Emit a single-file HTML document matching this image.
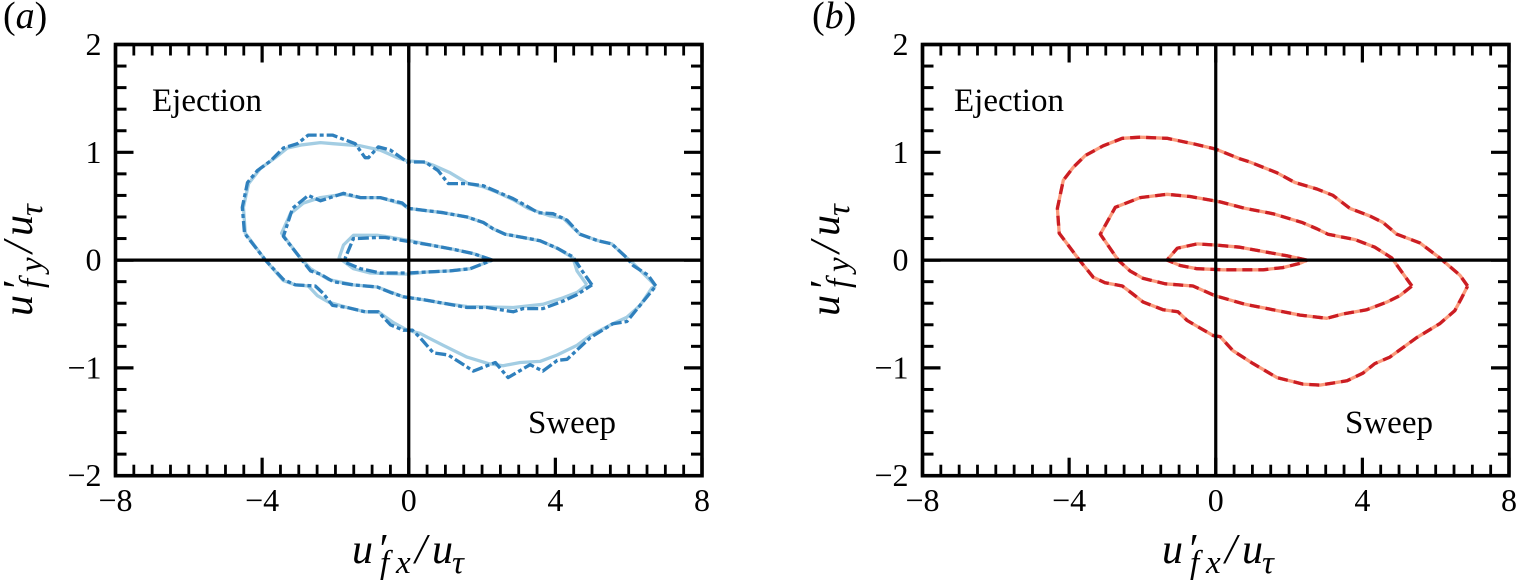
<!DOCTYPE html>
<html lang="en">
<head>
<meta charset="utf-8">
<title>Quadrant contours</title>
<style>
html,body{margin:0;padding:0;background:#fff;}
svg{display:block;}
text{font-family:"Liberation Serif",serif;fill:#000;}
.it{font-style:italic;}
</style>
</head>
<body>
<svg id="figure" width="1519" height="580" viewBox="0 0 1519 580" xmlns="http://www.w3.org/2000/svg">
  <rect width="1519" height="580" fill="#fff"/>
  <g id="plot-a"></g>
  <g id="plot-b"></g>

  <text x="3" y="28" font-size="38">(<tspan class="it">a</tspan>)</text>
  <text x="812" y="28" font-size="38">(<tspan class="it">b</tspan>)</text>

  <text x="152" y="111" font-size="33">Ejection</text>
  <text x="528" y="433" font-size="33">Sweep</text>
  <text x="954" y="111" font-size="33">Ejection</text>
  <text x="1345" y="433" font-size="33">Sweep</text>

  <g transform="translate(352,563)">
    <text class="it" font-size="42"><tspan x="0">u</tspan><tspan x="25">′</tspan><tspan x="28" dy="10" font-size="33">f</tspan><tspan x="44" font-size="33">x</tspan><tspan x="63" dy="-10">/</tspan><tspan x="80">u</tspan><tspan x="100" dy="10" font-size="33">τ</tspan></text>
  </g>
  <g transform="translate(32,316) rotate(-90)">
    <text class="it" font-size="42"><tspan x="0">u</tspan><tspan x="25">′</tspan><tspan x="28" dy="10" font-size="33">f</tspan><tspan x="44" font-size="33">y</tspan><tspan x="63" dy="-10">/</tspan><tspan x="80">u</tspan><tspan x="100" dy="10" font-size="33">τ</tspan></text>
  </g>
  <g transform="translate(1162,563)">
    <text class="it" font-size="42"><tspan x="0">u</tspan><tspan x="25">′</tspan><tspan x="28" dy="10" font-size="33">f</tspan><tspan x="44" font-size="33">x</tspan><tspan x="63" dy="-10">/</tspan><tspan x="80">u</tspan><tspan x="100" dy="10" font-size="33">τ</tspan></text>
  </g>
  <g transform="translate(839,316) rotate(-90)">
    <text class="it" font-size="42"><tspan x="0">u</tspan><tspan x="25">′</tspan><tspan x="28" dy="10" font-size="33">f</tspan><tspan x="44" font-size="33">y</tspan><tspan x="63" dy="-10">/</tspan><tspan x="80">u</tspan><tspan x="100" dy="10" font-size="33">τ</tspan></text>
  </g>
</svg>
<script>
// Tick values
const xMajorTicks = [-8, -4, 0, 4, 8];
const xTickLabels = ["−8", "−4", "0", "4", "8"];
const yMajorTicks = [-2, -1, 0, 1, 2];
const yTickLabels = ["−2", "−1", "0", "1", "2"];
const xMinorTicks = [-7.5,-7,-6.5,-6,-5.5,-5,-4.5,-3.5,-3,-2.5,-2,-1.5,-1,-0.5,0.5,1,1.5,2,2.5,3,3.5,4.5,5,5.5,6,6.5,7,7.5];
const yMinorTicks = [-1.8,-1.6,-1.4,-1.2,-0.8,-0.6,-0.4,-0.2,0.2,0.4,0.6,0.8,1.2,1.4,1.6,1.8];

// Panel (a): contour values [u'fx/ut, u'fy/ut]
const aOuterSolid = [[6.74,-0.24],[6.12,-0.03],[5.95,0.02],[5.54,0.15],[5.16,0.18],[4.67,0.24],[4.21,0.39],[3.86,0.41],[3.26,0.48],[2.85,0.56],[2.41,0.63],[2.03,0.68],[1.62,0.71],[1.13,0.81],[0.67,0.88],[0.40,0.91],[-0.04,0.92],[-0.31,0.95],[-0.78,1.02],[-1.32,1.06],[-2.06,1.08],[-2.41,1.09],[-2.90,1.07],[-3.31,1.04],[-3.64,0.95],[-4.05,0.85],[-4.37,0.71],[-4.51,0.49],[-4.46,0.25],[-3.91,0.00],[-3.42,-0.19],[-3.09,-0.23],[-2.74,-0.24],[-2.49,-0.33],[-2.19,-0.39],[-1.68,-0.44],[-1.19,-0.48],[-0.83,-0.48],[-0.42,-0.58],[-0.04,-0.65],[0.31,-0.68],[0.53,-0.72],[0.94,-0.79],[1.59,-0.90],[2.17,-0.96],[2.57,-0.98],[3.04,-0.95],[3.58,-0.94],[4.05,-0.88],[4.59,-0.79],[4.95,-0.70],[5.57,-0.59],[5.95,-0.53],[6.31,-0.42],[6.63,-0.26],[6.74,-0.24]];
const aOuterDashed = [[6.74,-0.24],[6.53,-0.14],[6.12,-0.05],[5.95,0.02],[5.54,0.15],[5.16,0.18],[4.67,0.24],[4.32,0.37],[3.94,0.43],[3.53,0.44],[3.17,0.51],[2.85,0.57],[2.44,0.63],[2.03,0.69],[1.62,0.71],[1.08,0.71],[0.80,0.83],[0.45,0.91],[-0.04,0.91],[-0.50,1.02],[-0.83,1.05],[-1.10,0.95],[-1.19,0.95],[-1.46,1.08],[-2.08,1.16],[-2.74,1.16],[-3.04,1.08],[-3.42,1.04],[-3.77,0.92],[-4.13,0.83],[-4.40,0.72],[-4.54,0.49],[-4.48,0.25],[-3.91,0.00],[-3.42,-0.18],[-3.09,-0.23],[-2.55,-0.24],[-2.33,-0.31],[-2.08,-0.42],[-1.68,-0.44],[-1.19,-0.48],[-0.83,-0.48],[-0.50,-0.60],[-0.15,-0.65],[0.10,-0.65],[0.31,-0.72],[0.67,-0.86],[1.08,-0.88],[1.40,-0.95],[1.76,-1.03],[2.36,-0.95],[2.71,-1.09],[3.31,-0.97],[3.66,-1.03],[4.05,-0.93],[4.32,-0.92],[4.95,-0.72],[5.57,-0.59],[5.95,-0.57],[6.74,-0.24]];
const aMiddleSolid = [[4.86,-0.23],[4.59,-0.10],[4.48,0.02],[4.05,0.11],[3.58,0.18],[3.12,0.21],[2.63,0.24],[2.30,0.29],[2.03,0.35],[1.59,0.40],[0.94,0.44],[0.45,0.46],[-0.01,0.48],[-0.18,0.52],[-0.78,0.58],[-1.32,0.58],[-1.78,0.61],[-2.41,0.58],[-2.87,0.53],[-3.23,0.43],[-3.47,0.25],[-2.96,0.02],[-2.68,-0.08],[-2.19,-0.18],[-1.51,-0.23],[-0.86,-0.25],[-0.15,-0.34],[0.45,-0.37],[0.94,-0.40],[1.59,-0.43],[2.85,-0.44],[3.66,-0.41],[4.21,-0.35],[4.59,-0.30],[4.86,-0.23]];
const aMiddleDashed = [[5.00,-0.23],[4.73,-0.10],[4.48,0.03],[4.05,0.11],[3.58,0.18],[3.12,0.21],[2.63,0.24],[2.30,0.29],[2.03,0.35],[1.59,0.40],[0.94,0.44],[0.45,0.46],[-0.01,0.48],[-0.18,0.53],[-0.78,0.58],[-1.32,0.58],[-1.78,0.62],[-2.41,0.55],[-2.74,0.60],[-3.17,0.48],[-3.42,0.22],[-2.96,0.02],[-2.68,-0.10],[-2.41,-0.13],[-2.06,-0.20],[-1.51,-0.23],[-0.86,-0.25],[-0.50,-0.30],[-0.15,-0.34],[0.45,-0.37],[0.94,-0.40],[1.59,-0.44],[2.14,-0.44],[2.85,-0.48],[3.12,-0.45],[3.66,-0.45],[4.21,-0.38],[4.59,-0.32],[5.00,-0.23]];
const aInnerSolid = [[2.28,0.00],[1.76,0.06],[1.21,0.10],[0.59,0.14],[0.04,0.18],[-0.64,0.22],[-0.86,0.23],[-1.51,0.23],[-1.78,0.14],[-1.90,0.02],[-1.51,-0.08],[-1.05,-0.12],[-0.04,-0.13],[0.50,-0.11],[1.13,-0.10],[1.68,-0.08],[2.28,0.00]];
const aInnerDashed = [[2.28,0.00],[1.76,0.06],[1.21,0.10],[0.59,0.14],[0.04,0.17],[-0.64,0.21],[-0.86,0.21],[-1.38,0.20],[-1.51,0.20],[-1.73,0.02],[-1.73,-0.02],[-1.32,-0.08],[-0.78,-0.12],[-0.04,-0.12],[0.50,-0.11],[1.13,-0.10],[1.68,-0.08],[2.28,0.00]];

// Panel (b): the two line styles overlap, so they are read as one trace each
const bOuter = [[6.87,-0.24],[6.66,-0.14],[6.11,0.02],[5.57,0.16],[4.94,0.24],[4.56,0.35],[4.20,0.41],[3.66,0.48],[3.20,0.60],[2.76,0.66],[2.16,0.72],[1.67,0.81],[0.93,0.91],[0.66,0.94],[0.00,1.03],[-0.62,1.08],[-1.33,1.13],[-2.06,1.14],[-2.55,1.13],[-3.07,1.06],[-3.56,0.97],[-3.89,0.86],[-4.16,0.74],[-4.32,0.48],[-4.27,0.25],[-3.72,0.00],[-3.34,-0.16],[-3.02,-0.21],[-2.55,-0.24],[-2.28,-0.31],[-1.98,-0.39],[-1.44,-0.46],[-1.03,-0.48],[-0.78,-0.56],[-0.43,-0.63],[-0.07,-0.70],[0.12,-0.71],[0.47,-0.84],[1.02,-0.96],[1.67,-1.09],[2.38,-1.15],[2.84,-1.16],[3.58,-1.12],[4.01,-1.05],[4.34,-0.96],[4.75,-0.90],[5.48,-0.72],[6.11,-0.59],[6.52,-0.47],[6.71,-0.35],[6.87,-0.24]];
const bMiddle = [[5.35,-0.24],[4.80,0.02],[4.34,0.12],[3.80,0.19],[3.06,0.24],[2.76,0.29],[2.35,0.35],[1.56,0.43],[0.80,0.48],[0.12,0.54],[-0.70,0.59],[-1.33,0.61],[-2.06,0.58],[-2.74,0.49],[-3.15,0.24],[-2.66,0.00],[-2.34,-0.10],[-1.98,-0.17],[-1.38,-0.22],[-0.62,-0.24],[-0.02,-0.33],[0.80,-0.41],[1.56,-0.46],[2.30,-0.51],[3.03,-0.54],[3.47,-0.50],[4.12,-0.46],[4.67,-0.39],[5.02,-0.33],[5.35,-0.24]];
const bInner = [[2.49,0.00],[1.94,0.04],[1.29,0.08],[0.66,0.12],[-0.02,0.14],[-0.51,0.15],[-1.05,0.11],[-1.33,0.00],[-0.97,-0.05],[-0.51,-0.08],[0.20,-0.09],[0.66,-0.09],[1.29,-0.09],[1.83,-0.07],[2.30,-0.03],[2.49,0.00]];

const SVGNS = "http://www.w3.org/2000/svg";

function makeAxes(left, right, top, bottom) {
  return {
    left: left, right: right, top: top, bottom: bottom,
    sx: function (v) { return left + (v + 8) / 16 * (right - left); },
    sy: function (v) { return top + (2 - v) / 4 * (bottom - top); }
  };
}

function addLine(parent, x1, y1, x2, y2, width, name) {
  const el = document.createElementNS(SVGNS, "line");
  el.setAttribute("x1", x1);
  el.setAttribute("y1", y1);
  el.setAttribute("x2", x2);
  el.setAttribute("y2", y2);
  el.setAttribute("stroke", "#000");
  el.setAttribute("stroke-width", width);
  
  
  parent.appendChild(el);
}

function addLabel(parent, x, y, anchor, content, name) {
  const el = document.createElementNS(SVGNS, "text");
  el.setAttribute("x", x);
  el.setAttribute("y", y);
  el.setAttribute("text-anchor", anchor);
  el.setAttribute("font-size", "32");
  el.textContent = content;
  
  
  parent.appendChild(el);
}

function addContour(parent, axes, points, color, dash, name) {
  const el = document.createElementNS(SVGNS, "polyline");
  el.setAttribute("points", points.map(function (p) {
    return axes.sx(p[0]).toFixed(1) + "," + axes.sy(p[1]).toFixed(1);
  }).join(" "));
  el.setAttribute("fill", "none");
  el.setAttribute("stroke", color);
  el.setAttribute("stroke-width", "3.3");
  el.setAttribute("stroke-linejoin", "round");
  if (dash) el.setAttribute("stroke-dasharray", dash);
  
  
  parent.appendChild(el);
}

function drawFrame(parent, axes, prefix) {
  const major = 18, minor = 11;
  xMinorTicks.forEach(function (v) {
    const x = axes.sx(v);
    addLine(parent, x, axes.bottom, x, axes.bottom - minor, 2.8, prefix + "-x-minor-tick");
    addLine(parent, x, axes.top, x, axes.top + minor, 2.8, prefix + "-x-minor-tick-top");
  });
  yMinorTicks.forEach(function (v) {
    const y = axes.sy(v);
    addLine(parent, axes.left, y, axes.left + minor, y, 3, prefix + "-y-minor-tick");
    addLine(parent, axes.right, y, axes.right - minor, y, 3, prefix + "-y-minor-tick-right");
  });
  xMajorTicks.forEach(function (v, i) {
    const x = axes.sx(v);
    addLine(parent, x, axes.bottom, x, axes.bottom - major, 3.2, prefix + "-x-major-tick");
    addLine(parent, x, axes.top, x, axes.top + major, 3.2, prefix + "-x-major-tick-top");
    addLabel(parent, x, 511, "middle", xTickLabels[i], prefix + "-x-tick-label");
  });
  yMajorTicks.forEach(function (v, i) {
    const y = axes.sy(v);
    addLine(parent, axes.left, y, axes.left + major, y, 3.2, prefix + "-y-major-tick");
    addLine(parent, axes.right, y, axes.right - major, y, 3.2, prefix + "-y-major-tick-right");
    addLabel(parent, axes.left - 14, y + 10.5, "end", yTickLabels[i], prefix + "-y-tick-label");
  });
  const frame = document.createElementNS(SVGNS, "rect");
  frame.setAttribute("x", axes.left);
  frame.setAttribute("y", axes.top);
  frame.setAttribute("width", axes.right - axes.left);
  frame.setAttribute("height", axes.bottom - axes.top);
  frame.setAttribute("fill", "none");
  frame.setAttribute("stroke", "#000");
  frame.setAttribute("stroke-width", "3.6");
  
  
  parent.appendChild(frame);
}

function drawZeroLines(parent, axes, prefix) {
  addLine(parent, axes.left, axes.sy(0), axes.right, axes.sy(0), 3.2, prefix + "-zero-line-horizontal");
  addLine(parent, axes.sx(0), axes.top, axes.sx(0), axes.bottom, 3.2, prefix + "-zero-line-vertical");
}

const DASH_BLUE = "11 3 4 3";
const DASH_RED = "10 6";

const axesA = makeAxes(115.5, 702, 44.5, 475.7);
const plotA = document.getElementById("plot-a");
const BLUE_LIGHT = "#a3cde3";
const BLUE_DARK = "#2f80bd";
addContour(plotA, axesA, aOuterSolid, BLUE_LIGHT, null, "panel-a-outer-contour-solid");
addContour(plotA, axesA, aMiddleSolid, BLUE_LIGHT, null, "panel-a-middle-contour-solid");
addContour(plotA, axesA, aInnerSolid, BLUE_LIGHT, null, "panel-a-inner-contour-solid");
addContour(plotA, axesA, aOuterDashed, BLUE_DARK, DASH_BLUE, "panel-a-outer-contour-dashed");
addContour(plotA, axesA, aMiddleDashed, BLUE_DARK, DASH_BLUE, "panel-a-middle-contour-dashed");
addContour(plotA, axesA, aInnerDashed, BLUE_DARK, DASH_BLUE, "panel-a-inner-contour-dashed");
drawZeroLines(plotA, axesA, "panel-a");
drawFrame(plotA, axesA, "panel-a");

const axesB = makeAxes(922.5, 1509, 44.5, 475.7);
const plotB = document.getElementById("plot-b");
const RED_LIGHT = "#fb9a7c";
const RED_DARK = "#cb1d23";
addContour(plotB, axesB, bOuter, RED_LIGHT, null, "panel-b-outer-contour-solid");
addContour(plotB, axesB, bMiddle, RED_LIGHT, null, "panel-b-middle-contour-solid");
addContour(plotB, axesB, bInner, RED_LIGHT, null, "panel-b-inner-contour-solid");
addContour(plotB, axesB, bOuter, RED_DARK, DASH_RED, "panel-b-outer-contour-dashed");
addContour(plotB, axesB, bMiddle, RED_DARK, DASH_RED, "panel-b-middle-contour-dashed");
addContour(plotB, axesB, bInner, RED_DARK, DASH_RED, "panel-b-inner-contour-dashed");
drawZeroLines(plotB, axesB, "panel-b");
drawFrame(plotB, axesB, "panel-b");
</script>
</body>
</html>
